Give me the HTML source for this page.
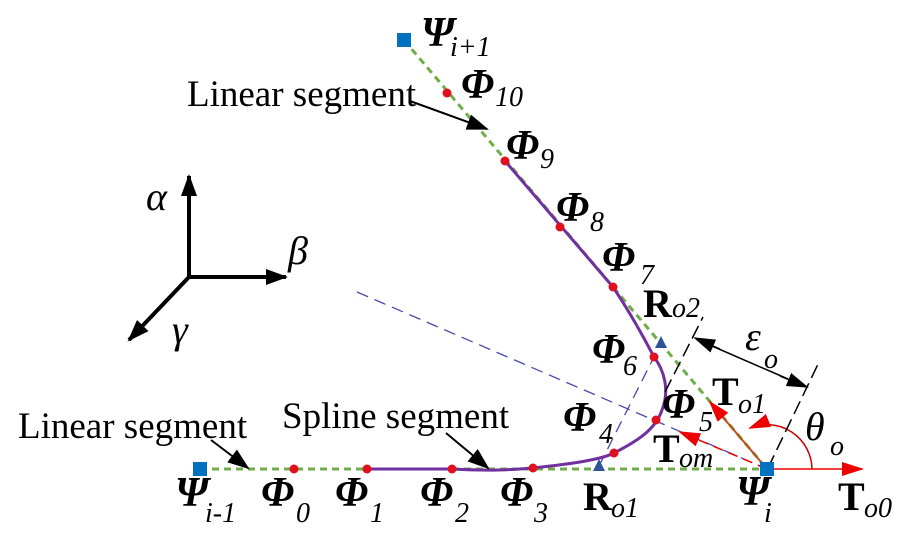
<!DOCTYPE html>
<html><head><meta charset="utf-8"><style>html,body{margin:0;padding:0;background:#fff}svg{display:block}svg text{font-family:"Liberation Serif",serif}</style></head>
<body>
<svg width="907" height="537" viewBox="0 0 907 537" xmlns="http://www.w3.org/2000/svg">
<defs>
<marker id="abig" markerWidth="22" markerHeight="16" refX="20" refY="8" orient="auto" markerUnits="userSpaceOnUse"><path d="M0,0 L22,8 L0,16z" fill="#000"/></marker>
<marker id="ar" markerWidth="22" markerHeight="14" refX="20" refY="7" orient="auto" markerUnits="userSpaceOnUse"><path d="M0,0 L22,7 L0,14z" fill="#e00"/></marker>
<marker id="ak" markerWidth="22" markerHeight="14" refX="20" refY="7" orient="auto" markerUnits="userSpaceOnUse"><path d="M0,0 L22,7 L0,14z" fill="#000"/></marker>
</defs>
<line x1="200" y1="469" x2="767" y2="469" stroke="#70ad47" stroke-width="3" stroke-dasharray="7,5"/>
<line x1="404" y1="40" x2="767" y2="469" stroke="#70ad47" stroke-width="3" stroke-dasharray="7,5"/>
<line x1="357" y1="292" x2="767" y2="469" stroke="#4a4aaa" stroke-width="1.3" stroke-dasharray="12,7"/>
<line x1="599" y1="466" x2="661" y2="343" stroke="#4a4aaa" stroke-width="1.3" stroke-dasharray="12,7"/>
<path d="M367,469 L452,469 C490,471 510,470 533,468 C570,464 600,460 614,453 C640,440 656,428 662,410 C670,390 664,370 654,357 C640,330 625,305 613,287 L505,161" fill="none" stroke="#7030a0" stroke-width="3"/>
<line x1="767" y1="469" x2="862" y2="469" stroke="#e00" stroke-width="1.5" marker-end="url(#ar)"/>
<line x1="767" y1="469" x2="710" y2="402" stroke="#c05020" stroke-width="2" marker-end="url(#ar)"/>
<line x1="767" y1="469" x2="680" y2="432" stroke="#e00" stroke-width="1.5" stroke-dasharray="10,6" marker-end="url(#ar)"/>
<path d="M812,469 A45,45 0 0 0 750,428" fill="none" stroke="#c00" stroke-width="1.5" marker-end="url(#ar)"/>
<line x1="768" y1="468" x2="820" y2="360" stroke="#000" stroke-width="1.5" stroke-dasharray="14,6"/>
<line x1="665" y1="392" x2="703" y2="317" stroke="#000" stroke-width="1.5" stroke-dasharray="14,6"/>
<line x1="720" y1="349" x2="695" y2="338" stroke="#000" stroke-width="1.5" marker-end="url(#ak)"/>
<line x1="780" y1="376" x2="807" y2="387" stroke="#000" stroke-width="1.5" marker-end="url(#ak)"/>
<line x1="712" y1="346" x2="788" y2="379" stroke="#000" stroke-width="1.5"/>
<g stroke="#000" stroke-width="4">
<line x1="189" y1="279" x2="189" y2="176" marker-end="url(#abig)"/>
<line x1="187" y1="277" x2="286" y2="277" marker-end="url(#abig)"/>
<line x1="189" y1="277" x2="129" y2="340" marker-end="url(#abig)"/>
</g>
<g stroke="#000" stroke-width="2">
<line x1="410" y1="101" x2="487" y2="129" marker-end="url(#abig)"/>
<line x1="211" y1="440" x2="248" y2="468" marker-end="url(#abig)"/>
<line x1="446" y1="433" x2="488" y2="468" marker-end="url(#abig)"/>
</g>
<rect x="193" y="462" width="14" height="14" fill="#0070c0"/>
<rect x="760" y="462" width="14" height="14" fill="#0070c0"/>
<rect x="397" y="33" width="14" height="14" fill="#0070c0"/>
<path d="M599,459 L605,471 L593,471z" fill="#2e5597"/>
<path d="M661,336 L667,348 L655,348z" fill="#2e5597"/>
<g fill="#e0101e">
<circle cx="294" cy="469" r="4.5"/><circle cx="367" cy="469" r="4.5"/><circle cx="452" cy="469" r="4.5"/><circle cx="533" cy="468" r="4.5"/><circle cx="614" cy="453" r="4.5"/><circle cx="656" cy="420" r="4.5"/><circle cx="654" cy="357" r="4.5"/><circle cx="613" cy="287" r="4.5"/><circle cx="560" cy="227" r="4.5"/><circle cx="505" cy="161" r="4.5"/><circle cx="447" cy="93" r="4.5"/>
</g>
<g font-size="37" fill="#000">
<text x="187" y="106">Linear segment</text>
<text x="18" y="438">Linear segment</text>
<text x="282" y="428">Spline segment</text>
</g>
<g font-style="italic" font-size="40">
<text x="146" y="210">α</text><text x="288" y="264">β</text><text x="172" y="343">γ</text>
</g>
<g font-weight="bold" font-style="italic" font-size="42" fill="#000">
<text x="175" y="506">Ψ<tspan x="205" font-size="28" font-weight="normal" y="522">i-1</tspan></text>
<text x="261" y="506">Φ<tspan x="296" font-size="28" font-weight="normal" y="522">0</tspan></text>
<text x="335" y="506">Φ<tspan x="370" font-size="28" font-weight="normal" y="522">1</tspan></text>
<text x="420" y="506">Φ<tspan x="455" font-size="28" font-weight="normal" y="522">2</tspan></text>
<text x="500" y="506">Φ<tspan x="534" font-size="28" font-weight="normal" y="522">3</tspan></text>
<text x="563" y="431">Φ<tspan x="599" font-size="28" font-weight="normal" y="443">4</tspan></text>
<text x="662" y="418">Φ<tspan x="699" font-size="28" font-weight="normal" y="431">5</tspan></text>
<text x="592" y="363">Φ<tspan x="623" font-size="28" font-weight="normal" y="375">6</tspan></text>
<text x="602" y="271">Φ<tspan x="640" font-size="28" font-weight="normal" y="284">7</tspan></text>
<text x="556" y="221">Φ<tspan x="590" font-size="28" font-weight="normal" y="231">8</tspan></text>
<text x="506" y="159">Φ<tspan x="540" font-size="28" font-weight="normal" y="168">9</tspan></text>
<text x="461" y="98">Φ<tspan x="495" font-size="28" font-weight="normal" y="106">10</tspan></text>
<text x="421" y="46">Ψ<tspan x="450" font-size="28" font-weight="normal" y="56">i+1</tspan></text>
<text x="736" y="505">Ψ<tspan x="764" font-size="28" font-weight="normal" y="522">i</tspan></text>
</g>
<g font-weight="bold" font-size="40" fill="#000">
<text x="583" y="510">R<tspan x="611" font-size="28" font-weight="normal" font-style="italic" y="517">o1</tspan></text>
<text x="643" y="317">R<tspan x="672" font-size="28" font-weight="normal" font-style="italic" y="317">o2</tspan></text>
<text x="712" y="405">T<tspan x="738" font-size="28" font-weight="normal" font-style="italic" y="413">o1</tspan></text>
<text x="653" y="462">T<tspan x="679" font-size="28" font-weight="normal" font-style="italic" y="467">om</tspan></text>
<text x="838" y="510">T<tspan x="864" font-size="28" font-weight="normal" font-style="italic" y="517">o0</tspan></text>
</g>
<g font-style="italic" font-size="40">
<text x="745" y="350">ε<tspan x="764" font-size="28" y="368">o</tspan></text>
<text x="805" y="440">θ<tspan x="830" font-size="28" y="455">o</tspan></text>
</g>
</svg>
</body></html>
